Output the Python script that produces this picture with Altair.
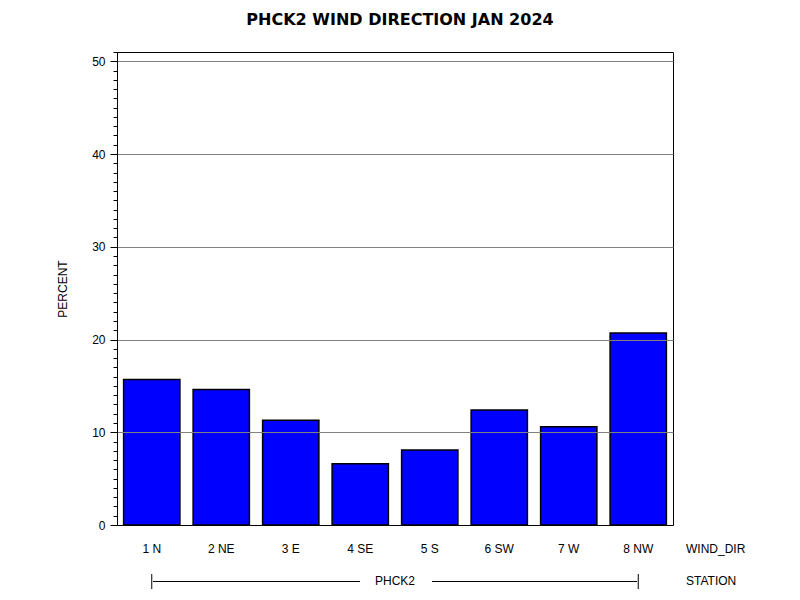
import altair as alt
import pandas as pd

wind_dir = ["1 N", "2 NE", "3 E", "4 SE", "5 S", "6 SW", "7 W", "8 NW"]
percent = [15.7, 14.6, 11.3, 6.6, 8.1, 12.4, 10.6, 20.7]
station = ["PHCK2"]
chart_title = ["PHCK2 WIND DIRECTION JAN 2024"]
row_labels = ["WIND_DIR", "STATION"]
y_tick_values = list(range(0, 52))

df = pd.DataFrame({"WIND_DIR": wind_dir, "PERCENT": percent})

W, H = 556, 473
FONT = "Liberation Sans"

xscale = alt.Scale(domain=wind_dir, paddingInner=0.19, paddingOuter=0.095)

bars = alt.Chart(df).mark_bar(color="#0000FF", stroke="black", strokeWidth=1.5).encode(
    x=alt.X("WIND_DIR:N", sort=wind_dir, scale=xscale,
            axis=alt.Axis(title=None, ticks=False, domain=False, labelAngle=0,
                          labelPadding=18, labelFontSize=12, labelFont=FONT,
                          labelColor="black")),
    y=alt.Y("PERCENT:Q", scale=alt.Scale(domain=[0, 51], nice=False, zero=True),
            axis=alt.Axis(values=y_tick_values, title="PERCENT", titleFont=FONT,
                          titleFontSize=12, titleFontWeight="normal", titleColor="black",
                          titlePadding=22,
                          labelExpr="datum.value % 10 === 0 ? datum.label : ''",
                          labelOverlap=False, labelFlush=False,
                          labelFont=FONT, labelFontSize=12, labelColor="black",
                          labelPadding=5,
                          tickColor="black", tickWidth=1,
                          tickSize={"condition": {"test": "datum.value % 10 === 0", "value": 7}, "value": 4},
                          gridColor="#808080", gridWidth=1,
                          gridOpacity={"condition": {"test": "datum.value % 10 === 0 && datum.value > 0", "value": 1}, "value": 0},
                          domain=True, domainColor="black", domainWidth=1, zindex=1)),
)

title_df = pd.DataFrame({"t": chart_title})
title = alt.Chart(title_df).mark_text(font="DejaVu Sans", fontSize=16, fontWeight="bold",
                                      color="black", align="center", baseline="top").encode(
    text="t:N", x=alt.value(283), y=alt.value(-40))

rows_df = pd.DataFrame({"t": row_labels, "yy": [497, 529]})
rows = alt.Chart(rows_df).mark_text(font=FONT, fontSize=12, color="black",
                                    align="left", baseline="middle").encode(
    text="t:N", x=alt.value(569), y=alt.Y("yy:Q", scale=None))

st_df = pd.DataFrame({"s": station})
st_text = alt.Chart(st_df).mark_text(font=FONT, fontSize=12, color="black",
                                     align="center", baseline="middle").encode(
    text="s:N", x=alt.value(278), y=alt.value(529))

end_df = pd.DataFrame({"WIND_DIR": [wind_dir[0], wind_dir[-1]]})
end_ticks = alt.Chart(end_df).mark_rule(color="black", strokeWidth=1).encode(
    x=alt.X("WIND_DIR:N", scale=xscale, sort=wind_dir),
    y=alt.value(522), y2=alt.value(537))

line_left = alt.Chart(st_df).mark_rule(color="black", strokeWidth=1).encode(
    x=alt.value(36), x2=alt.value(243), y=alt.value(529.5))
line_right = alt.Chart(st_df).mark_rule(color="black", strokeWidth=1).encode(
    x=alt.value(315), x2=alt.value(520), y=alt.value(529.5))

chart = alt.layer(bars, end_ticks, line_left, line_right, st_text, rows, title).properties(
    width=W, height=H,
    background="white",
    autosize=alt.AutoSizeParams(type="none"),
    padding={"left": 109, "top": 44, "right": 119, "bottom": 67},
).configure_view(stroke="black", strokeWidth=1)

chart.save("out.html", embed_options={"renderer": "svg", "actions": False})
